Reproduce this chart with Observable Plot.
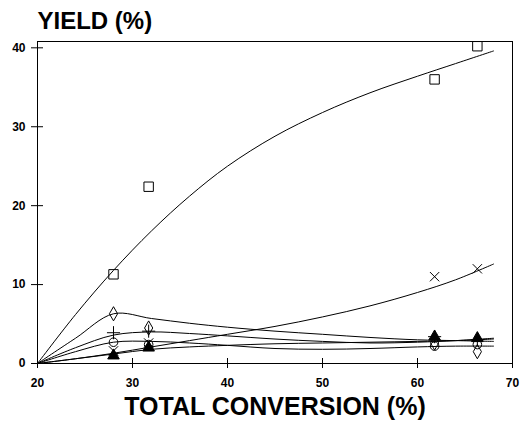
<!DOCTYPE html>
<html><head><meta charset="utf-8">
<script src="https://cdn.jsdelivr.net/npm/d3@7"></script>
<script src="https://cdn.jsdelivr.net/npm/@observablehq/plot@0.6"></script>
<style>
html,body{margin:0;padding:0;background:#fff;}
#c{position:relative;width:520px;height:423px;}
</style></head><body><div id="c"></div>
<script>
// measured conversions
const conv = [28, 31.7, 61.8, 66.3];
const squareY = [11.3, 22.4, 36.0, 40.2];
const timesY = [1.6, 2.6, 11.0, 12.0];
const diamondY = [6.3, 4.5, 2.6, 1.5];
const plusY = [3.9, 4.1, 3.4, 3.0];
const circleY = [2.7, 2.4, 2.2, 2.4];
const triangleY = [1.0, 2.0, 3.4, 3.2];

// fitted curves
const fitX = [20, 24, 28, 32, 36, 40, 45, 50, 55, 60, 64, 68];
const squareFit = [0, 6.2, 11.8, 16.8, 21.2, 25.0, 28.8, 31.8, 34.3, 36.4, 38.0, 39.6];
const timesFit = [0, 0.6, 1.3, 2.1, 2.9, 3.7, 4.7, 5.9, 7.3, 9.0, 10.6, 12.6];
const diamondFit = [0, 3.2, 6.3, 5.7, 5.1, 4.6, 4.1, 3.7, 3.3, 3.0, 2.9, 2.8];
const plusFit = [0, 2.0, 3.6, 4.0, 3.8, 3.5, 3.1, 2.8, 2.6, 2.7, 2.9, 3.2];
const circleFit = [0, 1.5, 2.7, 2.8, 2.6, 2.3, 1.9, 1.8, 1.9, 2.1, 2.2, 2.2];
const triangleFit = [0, 0.6, 1.2, 1.8, 2.1, 2.3, 2.5, 2.6, 2.7, 2.8, 2.9, 3.1];

const xTicks = [20, 30, 40, 50, 60, 70];
const yTicks = [0, 10, 20, 30, 40];

const series = [
  {name: "square", pts: squareY, fit: squareFit, symbol: "square", filled: false},
  {name: "times", pts: timesY, fit: timesFit, symbol: "times", filled: false},
  {name: "diamond", pts: diamondY, fit: diamondFit, symbol: "diamond", filled: false},
  {name: "plus", pts: plusY, fit: plusFit, symbol: "plus", filled: false},
  {name: "circle", pts: circleY, fit: circleFit, symbol: "circle", filled: false},
  {name: "triangle", pts: triangleY, fit: triangleFit, symbol: "triangle", filled: true}
];

const fitRows = series.flatMap(s => fitX.map((x, i) => ({s: s.name, x, y: s.fit[i]})));
const marks = [
  Plot.frame({stroke: "black", strokeWidth: 1}),
  Plot.line(fitRows, {x: "x", y: "y", z: "s", curve: "catmull-rom", stroke: "black", strokeWidth: 1}),
  ...series.map(s => Plot.dot(conv.map((x, i) => ({x, y: s.pts[i]})), {
    x: "x", y: "y", symbol: () => s.symbol, r: s.symbol === "square" ? 5.3 : 4.3,
    stroke: "black", strokeWidth: 1, fill: s.filled ? "black" : "none"
  })),
  Plot.axisX(xTicks, {tickSize: 5, tickPadding: 10, fontWeight: "bold", fontSize: 12, label: null}),
  Plot.axisX(xTicks, {tickSize: -5, tickFormat: () => "", label: null}),
  Plot.axisY(yTicks, {tickSize: 6, tickPadding: 6, fontWeight: "bold", fontSize: 12, label: null}),
  Plot.axisY(yTicks, {tickSize: -6, tickFormat: () => "", label: null})
];

const chart = Plot.plot({
  width: 520, height: 423,
  marginLeft: 37, marginRight: 8, marginTop: 41, marginBottom: 60,
  style: {fontFamily: "Liberation Sans, Arial, sans-serif", color: "black", background: "white"},
  x: {domain: [20, 70]},
  y: {domain: [0, 40.8]},
  marks: [
    ...marks,
    Plot.text(["YIELD (%)"], {frameAnchor: "top-left", dx: 0, dy: -30, fontSize: 24, fontWeight: "bold", textAnchor: "start"}),
    Plot.text(["TOTAL CONVERSION (%)"], {frameAnchor: "bottom", dy: 51, fontSize: 25, fontWeight: "bold"})
  ]
});
document.getElementById("c").appendChild(chart);
</script></body></html>
